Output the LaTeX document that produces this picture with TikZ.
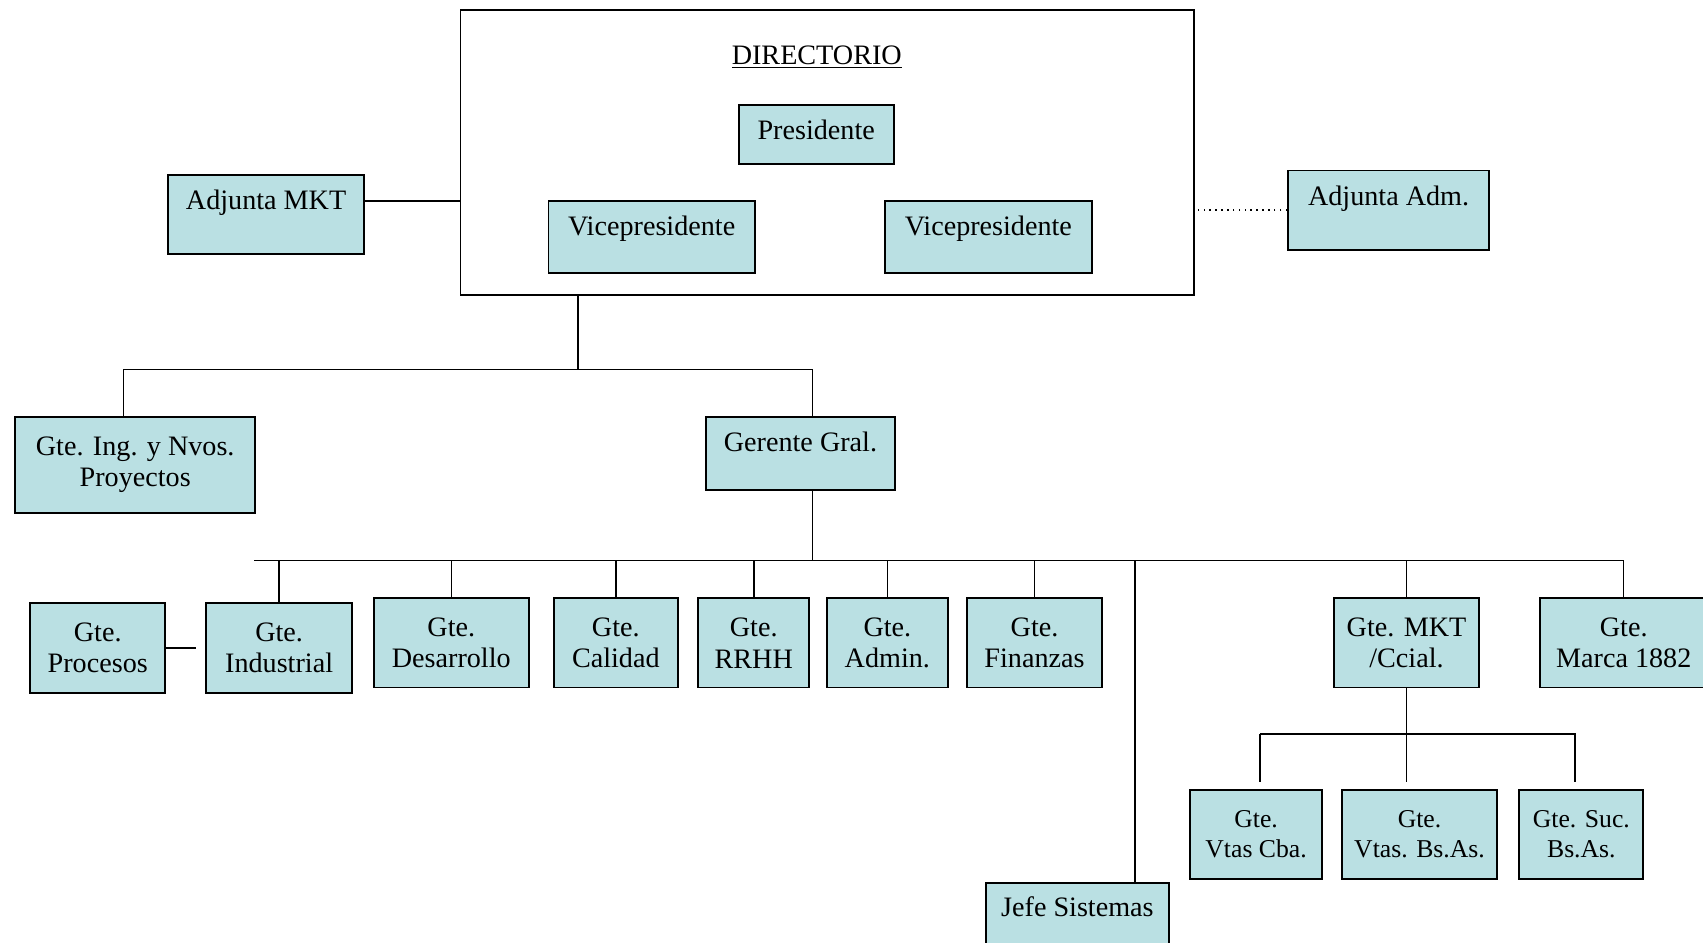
\documentclass[tikz,border=0pt,12pt]{standalone}
\usepackage{fontspec}
\setmainfont{Liberation Serif}[Scale=1.08]
\usepackage{tikz}
\definecolor{celeste}{RGB}{186,224,227}

\begin{document}
\begin{tikzpicture}[x=0.5pt, y=-0.5pt, line width=0.7pt,
    cargo/.style = {draw, fill=celeste, line width=0.9pt, align=center, inner sep=0pt},
    alto/.style = {text height=9pt, text depth=#1}]
  \useasboundingbox (0,0) rectangle (1568,868);
  % Nodes
  \node[draw, line width=0.9pt, minimum width=337.5pt, minimum height=131.5pt] (dir) at (761.5,140.5) {};
  \node (tit) at (752,53) {\underline{DIRECTORIO}};
  \node[cargo, minimum width=71.5pt, minimum height=27pt, alto=5pt] (pres) at (751.5,124) {Presidente};
  \node[cargo, minimum width=95pt, minimum height=33pt, alto=10pt] (vp1) at (600,218) {Vicepresidente};
  \node[cargo, minimum width=95pt, minimum height=33pt, alto=10pt] (vp2) at (910,218) {Vicepresidente};
  \node[cargo, minimum width=90pt, minimum height=36.5pt, alto=13.5pt] (amkt) at (245,197.5) {Adjunta MKT};
  \node[cargo, minimum width=92.5pt, minimum height=36.5pt, alto=13.5pt] (aadm) at (1278.5,193.5) {Adjunta Adm.};
  \node[cargo, minimum width=110.5pt, minimum height=44pt] (ing) at (124.5,428) {Gte. Ing. y Nvos.\\Proyectos};
  \node[cargo, minimum width=87pt, minimum height=33.5pt, alto=10.5pt] (gg) at (737,417.5) {Gerente Gral.};
  \node[cargo, minimum width=62pt, minimum height=41.5pt] (proc) at (90,596.5) {Gte.\\Procesos};
  \node[cargo, minimum width=67pt, minimum height=41.5pt] (ind) at (257,596.5) {Gte.\\Industrial};
  \node[cargo, minimum width=71.5pt, minimum height=41pt] (des) at (415.5,592) {Gte.\\Desarrollo};
  \node[cargo, minimum width=57pt, minimum height=41pt] (cal) at (567,592) {Gte.\\Calidad};
  \node[cargo, minimum width=51pt, minimum height=41pt] (rrhh) at (694,592) {Gte.\\RRHH};
  \node[cargo, minimum width=56pt, minimum height=41pt] (adm) at (817,592) {Gte.\\Admin.};
  \node[cargo, minimum width=62.5pt, minimum height=41pt] (fin) at (952.5,592) {Gte.\\Finanzas};
  \node[cargo, minimum width=67pt, minimum height=41pt] (mkt) at (1295,592) {Gte. MKT\\/Ccial.};
  \node[cargo, minimum width=77pt, minimum height=41pt] (marca) at (1495,592) {Gte.\\Marca 1882};
  \node[cargo, minimum width=84pt, minimum height=33pt, alto=11pt] (sis) at (992,846) {Jefe Sistemas};
  \node[cargo, font=\small, minimum width=60.5pt, minimum height=41pt] (cba) at (1156.5,768) {Gte.\\Vtas Cba.};
  \node[cargo, font=\small, minimum width=71pt, minimum height=41pt] (bsas) at (1307,768) {Gte.\\Vtas. Bs.As.};
  \node[cargo, font=\small, minimum width=57pt, minimum height=41pt] (suc) at (1456,768) {Gte. Suc.\\Bs.As.};
  \coordinate (r1) at (532,340);
  \coordinate (r2) at (234,516);
  \coordinate (r3) at (1160,676);
  \coordinate (s1) at (1045,516);
  % Edges
  \draw ([yshift=6.25pt]amkt.east) -- ([yshift=6.25pt]amkt.east -| dir.west);
  \draw[dotted] (aadm.west) -- (aadm.west -| dir.east);
  \draw (r1 |- dir.south) -- (r1);
  \draw ([xshift=-5.5pt]ing.north) |- (r1) -| ([xshift=5.5pt]gg.north);
  \draw ([xshift=5.5pt]gg.south) -- ([xshift=5.5pt]gg.south |- r2);
  \draw (r2) -| (marca.north);
  \foreach \n in {ind,des,cal,rrhh,adm,fin,mkt}
    \draw (\n.north) -- (\n.north |- r2);
  \draw (s1) -- (s1 |- sis.north);
  \draw[shorten >=4.5pt] (proc) -- (ind);
  \draw[shorten >=3pt] (mkt.south) -- (mkt.south |- bsas.north);
  \draw[shorten >=3pt] (r3) -- (r3 |- cba.north);
  \draw[shorten >=3pt] (r3) -| ([xshift=-3pt]suc.north);
\end{tikzpicture}
\end{document}
